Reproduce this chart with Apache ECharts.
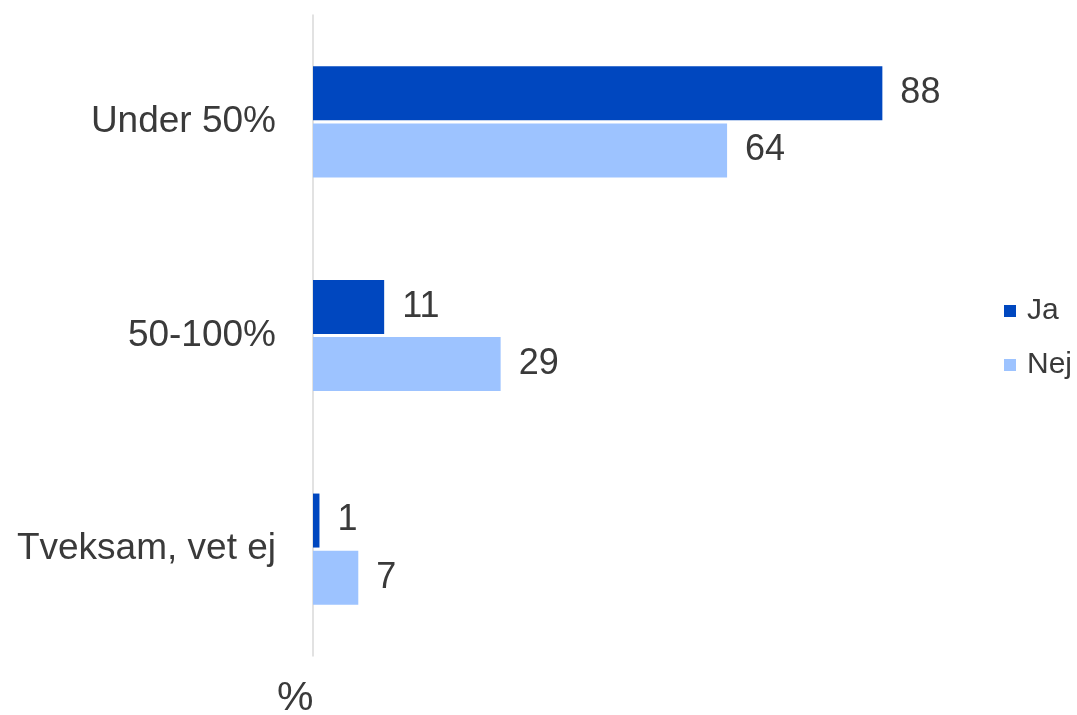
<!DOCTYPE html>
<html>
<head>
<meta charset="utf-8">
<script src="https://cdn.jsdelivr.net/npm/echarts@6/dist/echarts.min.js"></script>
<style>html,body{margin:0;padding:0;background:#fff;}#c{width:1077px;height:715px;}</style>
</head>
<body>
<div id="c"></div>
<script>
const categories = ['Under 50%', '50-100%', 'Tveksam, vet ej'];
const seriesNames = ['Ja', 'Nej'];
const jaValues = [88, 11, 1];
const nejValues = [64, 29, 7];
const unitLabel = '%';

const chart = echarts.init(document.getElementById('c'), null, {renderer: 'canvas'});
const font = '"Liberation Sans", Arial, sans-serif';
const textColor = '#3a3a3a';
chart.setOption({
  animation: false,
  backgroundColor: '#ffffff',
  textStyle: {fontFamily: font},
  grid: {left: 313, top: 15, width: 647, height: 641, containLabel: false},
  legend: {
    orient: 'vertical', left: 999, top: 291,
    itemWidth: 12, itemHeight: 12, itemGap: 24,
    icon: 'rect',
    textStyle: {fontSize: 30, color: textColor, fontFamily: font, padding: [0, 0, 0, 6]},
    data: seriesNames
  },
  xAxis: {
    type: 'value', min: 0, max: 100,
    axisLine: {show: false}, axisTick: {show: false}, axisLabel: {show: false}, splitLine: {show: false}
  },
  yAxis: {
    type: 'category', inverse: true, data: categories,
    axisLine: {show: true, lineStyle: {color: '#d9d9d9', width: 1.5}},
    axisTick: {show: false},
    axisLabel: {fontSize: 37, color: textColor, margin: 37, fontFamily: font, padding: [4, 0, 0, 0]}
  },
  graphic: [{
    type: 'text', left: 277, top: 678,
    style: {text: unitLabel, fontSize: 41, fill: textColor, fontFamily: font}
  }],
  series: [
    {
      name: seriesNames[0], type: 'bar', data: jaValues,
      barWidth: 54, barGap: '6%', barCategoryGap: '48%',
      itemStyle: {color: '#0047BF'},
      label: {show: true, position: 'right', distance: 18, fontSize: 36, color: textColor, fontFamily: font, padding: [3, 0, 0, 0]}
    },
    {
      name: seriesNames[1], type: 'bar', data: nejValues,
      barWidth: 54, barGap: '6%',
      itemStyle: {color: '#9DC3FF'},
      label: {show: true, position: 'right', distance: 18, fontSize: 36, color: textColor, fontFamily: font, padding: [3, 0, 0, 0]}
    }
  ]
});
</script>
</body>
</html>
